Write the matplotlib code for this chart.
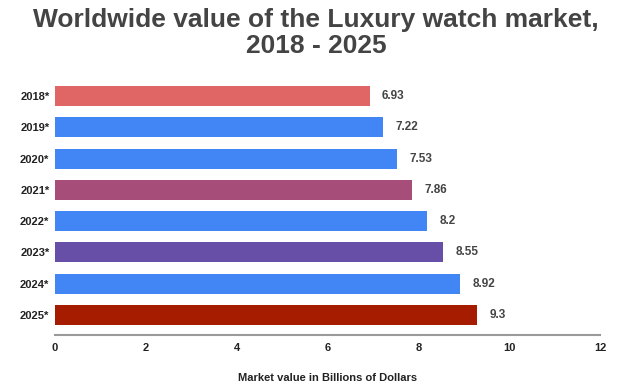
import matplotlib
matplotlib.use("Agg")
import matplotlib.pyplot as plt

years = ["2018*", "2019*", "2020*", "2021*", "2022*", "2023*", "2024*", "2025*"]
values = [6.93, 7.22, 7.53, 7.86, 8.2, 8.55, 8.92, 9.3]
labels = ["6.93", "7.22", "7.53", "7.86", "8.2", "8.55", "8.92", "9.3"]
colors = ["#E06666", "#4285F4", "#4285F4", "#A64D79", "#4285F4", "#674EA7", "#4285F4", "#A61C00"]
xticks = [0, 2, 4, 6, 8, 10, 12]

plt.rcParams['font.family'] = ['Liberation Sans', 'DejaVu Sans']

fig = plt.figure(figsize=(6.32, 3.87), dpi=100)
ax = fig.add_axes([55/632, 1-335/387, (600-55)/632, (335-80.4)/387])

pos = list(range(len(years)))
ax.barh(pos, values, height=0.64, color=colors, zorder=2)
for p, v, l in zip(pos, values, labels):
    ax.text(v + 0.27, p, l, va='center', ha='left', fontsize=8.5, fontweight='bold', color='#444444')

ax.set_xlim(0, 12)
ax.set_ylim(7.64, -0.5)
ax.set_yticks(pos)
ax.set_yticklabels(years, fontsize=8, fontweight='bold', color='#222222')
ax.set_xticks(xticks)
ax.set_xticklabels([str(t) for t in xticks], fontsize=8, fontweight='bold', color='#222222')
ax.tick_params(axis='both', length=0)
ax.tick_params(axis='y', pad=4)
ax.tick_params(axis='x', pad=6)
for s in ['top', 'right', 'left']:
    ax.spines[s].set_visible(False)
ax.spines['bottom'].set_color('#999999')
ax.spines['bottom'].set_linewidth(1.5)
ax.set_xlabel("Market value in Billions of Dollars", fontsize=8, fontweight='bold', color='#222222', labelpad=14)

fig.text(0.5, 1-33/387, "Worldwide value of the Luxury watch market,\n2018 - 2025", ha='center', va='center',
         fontsize=19, fontweight='bold', color='#444444', linespacing=1.1)

fig.savefig("out.png", dpi=100)
